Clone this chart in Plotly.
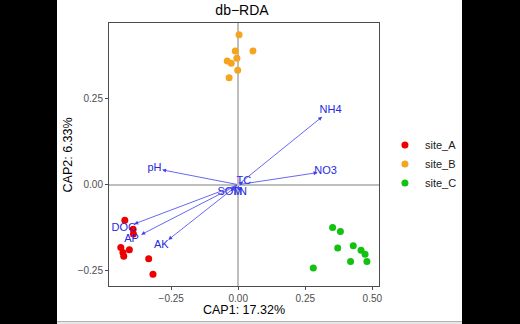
import plotly.graph_objects as go

# ---- sample scores ----
site_A_x = [-0.423, -0.392, -0.391, -0.438, -0.406, -0.430, -0.427, -0.334, -0.318]
site_A_y = [-0.103, -0.129, -0.143, -0.182, -0.189, -0.197, -0.208, -0.215, -0.260]
site_B_x = [0.003, -0.011, 0.055, -0.005, -0.041, -0.026, -0.002, -0.034]
site_B_y = [0.435, 0.388, 0.388, 0.367, 0.359, 0.352, 0.332, 0.310]
site_C_x = [0.352, 0.381, 0.429, 0.371, 0.458, 0.473, 0.419, 0.480, 0.280]
site_C_y = [-0.124, -0.136, -0.177, -0.184, -0.190, -0.202, -0.223, -0.223, -0.242]

# ---- environmental vectors ----
env_names = ["NH4", "NO3", "pH", "DOC", "AP", "AK", "TC", "SOM", "TN"]
env_x = [0.313, 0.296, -0.284, -0.388, -0.362, -0.261, 0.019, -0.028, 0.005]
env_y = [0.197, 0.035, 0.043, -0.114, -0.145, -0.160, 0.008, -0.019, -0.019]
label_scale = 1.1

groups = ["site_A", "site_B", "site_C"]
colors = ["#EE0000", "#F5A420", "#11C211"]

FONT = "Liberation Sans, Arial"

fig = go.Figure()
for name, xs, ys, c in zip(groups, [site_A_x, site_B_x, site_C_x],
                           [site_A_y, site_B_y, site_C_y], colors):
    fig.add_trace(go.Scatter(x=xs, y=ys, mode="markers", name=name,
                             marker=dict(color=c, size=7, line=dict(width=0))))

arrow_col = "#4040F0"
for n, ex, ey in zip(env_names, env_x, env_y):
    fig.add_annotation(x=ex, y=ey, ax=0, ay=0, xref="x", yref="y",
                       axref="x", ayref="y", showarrow=True, arrowhead=2,
                       arrowsize=1.0, arrowwidth=0.8, arrowcolor=arrow_col,
                       standoff=0, text="")

fig.add_trace(go.Scatter(x=[v * label_scale for v in env_x],
                         y=[v * label_scale for v in env_y],
                         mode="text", text=env_names, showlegend=False,
                         textfont=dict(color="#2828E0", size=11, family=FONT)))

# white page area on black background
fig.add_shape(type="rect", xref="paper", yref="paper", x0=-0.19259, x1=1.30741,
              y0=-0.13498, y1=1.08745, fillcolor="white", line_width=0,
              layer="below")
fig.add_shape(type="rect", xref="paper", yref="paper", x0=-0.19259, x1=1.30741,
              y0=-0.14449, y1=-0.13498, fillcolor="#E6E6E6", line_width=0,
              layer="below")

# axis titles
fig.add_annotation(text="CAP1: 17.32%", xref="paper", yref="paper",
                   x=0.5, y=-0.0913, xanchor="center", yanchor="middle",
                   showarrow=False, font=dict(size=12.5, color="black", family=FONT))
fig.add_annotation(text="CAP2: 6.33%", xref="paper", yref="paper",
                   x=-0.152, y=0.5, xanchor="center", yanchor="middle",
                   textangle=-90, showarrow=False,
                   font=dict(size=12.5, color="black", family=FONT))

axis_common = dict(showgrid=False, zeroline=True, zerolinecolor="#BEBEBE",
                   zerolinewidth=1.5, showline=True, mirror=True,
                   linecolor="#4D4D4D", linewidth=1, ticks="outside",
                   ticklen=3, tickcolor="#4D4D4D",
                   tickfont=dict(size=10, color="#4D4D4D", family=FONT))

fig.update_xaxes(range=[-0.482, 0.525], tickvals=[-0.25, 0, 0.25, 0.5],
                 ticktext=["\u22120.25", "0.00", "0.25", "0.50"],
                 **axis_common)
fig.update_yaxes(range=[-0.294, 0.469], tickvals=[-0.25, 0, 0.25],
                 ticktext=["\u22120.25", "0.00", "0.25"],
                 **axis_common)

fig.update_layout(
    width=520, height=324,
    margin=dict(l=109, r=141, t=23, b=38),
    paper_bgcolor="black", plot_bgcolor="white",
    title=dict(text="db\u2212RDA", x=0.4654, xanchor="center", y=0.97,
               yanchor="middle",
               font=dict(size=14, color="black", family=FONT)),
    legend=dict(x=1.022, y=0.464, xanchor="left", yanchor="middle",
                font=dict(size=11, color="#1A1A1A", family=FONT),
                bgcolor="rgba(0,0,0,0)"),
    showlegend=True,
)

fig.write_html("out.html")
